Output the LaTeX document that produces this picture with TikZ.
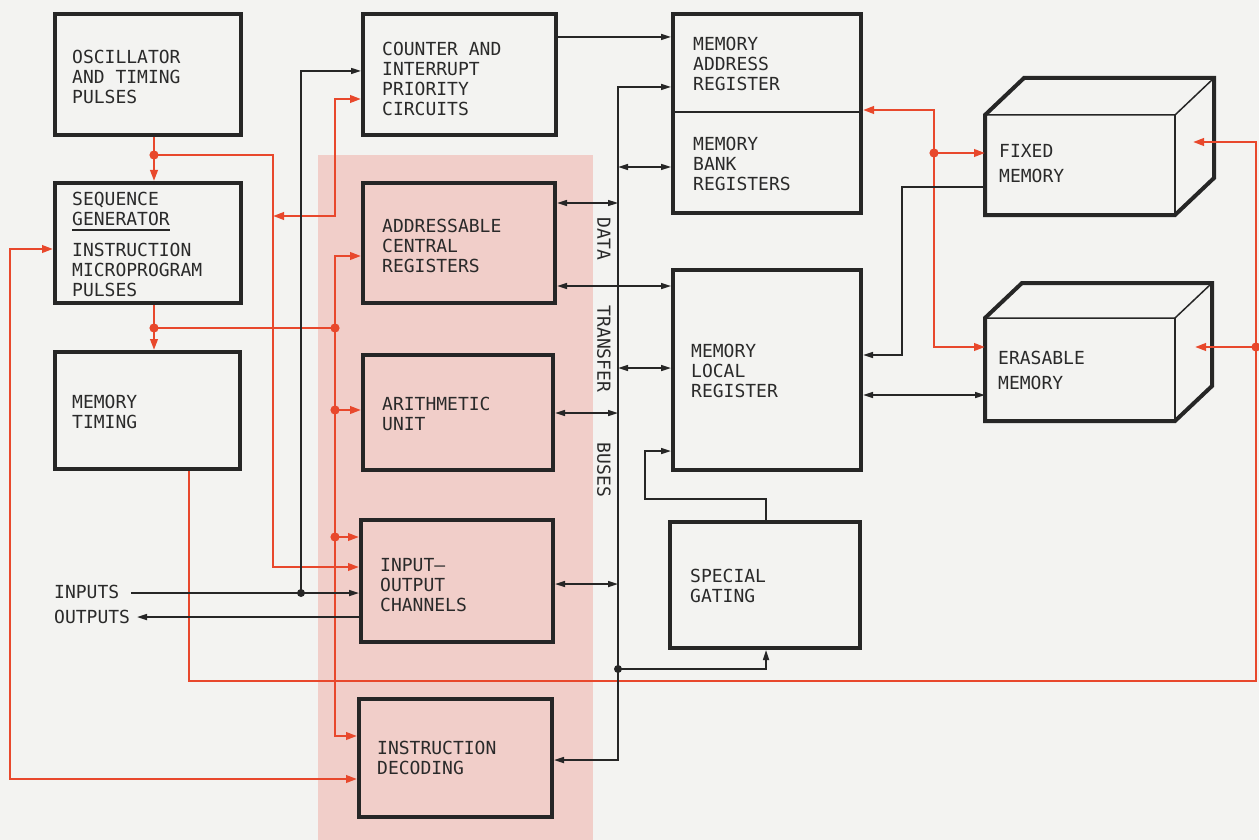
\documentclass[tikz,border=0pt]{standalone}
\usepackage{fontspec}
\setmainfont{DejaVu Sans Mono}
\usetikzlibrary{arrows.meta,calc}
\definecolor{bgc}{RGB}{243,243,241}
\definecolor{pinkc}{RGB}{241,206,201}
\definecolor{redc}{RGB}{232,72,44}
\definecolor{inkc}{RGB}{38,38,38}
\definecolor{txtc}{RGB}{42,42,42}
\begin{document}
\begin{tikzpicture}[x=1pt,y=-1pt,
  box/.style={draw=inkc, line width=4pt, inner sep=0pt},
  face/.style={inner sep=0pt, outer sep=0pt},
  lbl/.style={font=\fontsize{18}{20}\selectfont, text=txtc, align=left, inner sep=0pt, anchor=west},
  wlbl/.style={lbl, font=\fontsize{18}{25}\selectfont},
  vlbl/.style={font=\fontsize{18}{20}\selectfont, text=txtc, inner sep=0pt, rotate=-90},
  bl/.style={draw=inkc, line width=1.6pt, >={Triangle[length=10pt,width=6pt]}},
  rl/.style={draw=redc, line width=2.3pt, >={Triangle[length=11pt,width=7.5pt]}},
  thickedge/.style={draw=inkc, line width=4pt, line join=miter},
  thinedge/.style={draw=inkc, line width=1.5pt},
  rdot/.style={fill=redc},
  kdot/.style={fill=inkc}]
\useasboundingbox (0,0) rectangle (1259,840);
\fill[bgc] (0,0) rectangle (1259,840);
\fill[pinkc] (318,155) rectangle (593,840);

% ---------- boxes ----------
\node[box, minimum width=186pt, minimum height=121pt] (osc) at (148,74.5) {};
\node[box, minimum width=186pt, minimum height=120pt] (seq) at (148,243) {};
\node[box, minimum width=185pt, minimum height=117pt] (memt) at (147.5,410.5) {};
\node[box, minimum width=193pt, minimum height=121pt] (ctr) at (459.5,74.5) {};
\node[box, minimum width=192pt, minimum height=120pt] (addr) at (459,243) {};
\node[box, minimum width=190pt, minimum height=115pt] (arith) at (458,412.5) {};
\node[box, minimum width=192pt, minimum height=122pt] (io) at (457,581) {};
\node[box, minimum width=193pt, minimum height=118pt] (instr) at (455.5,758) {};
\node[box, minimum width=188pt, minimum height=199pt] (mar) at (767,113.5) {};
\node[box, minimum width=188pt, minimum height=200pt] (mlr) at (767,370) {};
\node[box, minimum width=190pt, minimum height=126pt] (spec) at (765,585) {};
\draw[thinedge] (mar.west |- 0,112) -- (mar.east |- 0,112);

% 3D memories
\node[face, minimum width=190pt, minimum height=100pt] (fixedm) at (1080,165) {};
\draw[thickedge] (fixedm.south west) -- (fixedm.north west) -- ++(39,-37) -- ++(190,0) -- ++(0,100) -- (fixedm.south east) -- cycle;
\draw[thinedge] (fixedm.north west) -- (fixedm.north east) -- ++(39,-37);
\draw[thinedge] (fixedm.north east) -- (fixedm.south east);
\node[face, minimum width=190pt, minimum height=103pt] (eras) at (1080,369.5) {};
\draw[thickedge] (eras.south west) -- (eras.north west) -- ++(37,-35) -- ++(190,0) -- ++(0,103) -- (eras.south east) -- cycle;
\draw[thinedge] (eras.north west) -- (eras.north east) -- ++(37,-35);
\draw[thinedge] (eras.north east) -- (eras.south east);

% ---------- junction coordinates ----------
\coordinate (j1) at (154,155);
\coordinate (j2) at (154,328);
\coordinate (j3) at (335,328);
\coordinate (j4) at (335,410);
\coordinate (j5) at (335,537);
\coordinate (j6) at (1256,347);
\coordinate (j7) at (934,153);
\coordinate (k1) at (301,593);
\coordinate (k2) at (618,669);
\coordinate (fxin) at (1193,142);
\coordinate (erin) at (1195,347);
\coordinate (inS) at (131,593);
\coordinate (outE) at (137,617);

% ---------- red control lines ----------
\draw[rl,->] (osc.south -| j1) -- (seq.north -| j1);
\draw[rl,->] (j1) -- (273,155) -- (273,567) -- (io.west |- 0,567);
\draw[rl,<->] (273,216) -- (335,216) -- (335,99) -- (ctr.west |- 0,99);
\draw[rl,->] (seq.south -| j2) -- (memt.north -| j2);
\draw[rl] (j2) -- (j3);
\draw[rl,<->] (addr.west |- 0,256) -- (335,256) -- (335,736) -- (instr.west |- 0,736);
\draw[rl,->] (j4) -- (arith.west |- j4);
\draw[rl,->] (j5) -- (io.west |- j5);
\draw[rl,<->] (seq.west |- 0,249) -- (10,249) -- (10,779) -- (instr.west |- 0,779);
\draw[rl,->] (memt.south -| 189,0) -- (189,681) -- (1256,681) -- (1256,142) -- (fxin);
\draw[rl,->] (j6) -- (erin);
\draw[rl,<->] (mar.east |- 0,110) -- (934,110) -- (934,347) -- (eras.west |- 0,347);
\draw[rl,->] (j7) -- (fixedm.west |- j7);

% ---------- black data lines ----------
\draw[bl,->] (ctr.east |- 0,37) -- (mar.west |- 0,37);
\draw[bl,->] (inS) -- (io.west |- inS);
\draw[bl,->] (k1) -- (301,71) -- (ctr.west |- 0,71);
\draw[bl,->] (io.west |- outE) -- (outE);
\draw[bl,<->] (mar.west |- 0,87) -- (618,87) -- (618,760) -- (instr.east |- 0,760);
\draw[bl,<->] (618,167) -- (mar.west |- 0,167);
\draw[bl,<->] (addr.east |- 0,203) -- (618,203);
\draw[bl,<->] (addr.east |- 0,286) -- (mlr.west |- 0,286);
\draw[bl,<->] (618,368) -- (mlr.west |- 0,368);
\draw[bl,<->] (arith.east |- 0,413) -- (618,413);
\draw[bl,<->] (io.east |- 0,584) -- (618,584);
\draw[bl,->] (k2) -- (766,669) -- (spec.south -| 766,0);
\draw[bl,->] (spec.north -| 766,0) -- (766,499) -- (645,499) -- (645,451) -- (mlr.west |- 0,451);
\draw[bl,->] (fixedm.west |- 0,187) -- (902,187) -- (902,355) -- (mlr.east |- 0,355);
\draw[bl,<->] (mlr.east |- 0,395) -- (eras.west |- 0,395);

% ---------- dots ----------
\foreach \p in {j1,j2,j3,j4,j5,j6,j7} \fill[rdot] (\p) circle (4.6pt);
\foreach \p in {k1,k2} \fill[kdot] (\p) circle (4pt);

% ---------- labels ----------
\node[lbl] (osc-l) at (72,77) {OSCILLATOR\\AND TIMING\\PULSES};
\node[lbl, anchor=north west] (seq-l1) at (72,192) {SEQUENCE\\GENERATOR};
\draw[thinedge] ([yshift=-4pt]seq-l1.south west) -- ([yshift=-4pt]seq-l1.south east);
\node[lbl, anchor=north west] (seq-l2) at (72,243) {INSTRUCTION\\MICROPROGRAM\\PULSES};
\node[lbl] (memt-l) at (72,412) {MEMORY\\TIMING};
\node[lbl] (ctr-l) at (382,79) {COUNTER AND\\INTERRUPT\\PRIORITY\\CIRCUITS};
\node[lbl] (addr-l) at (382,246) {ADDRESSABLE\\CENTRAL\\REGISTERS};
\node[lbl] (arith-l) at (382,413.5) {ARITHMETIC\\UNIT};
\node[lbl] (io-l) at (380,585) {INPUT–\\OUTPUT\\CHANNELS};
\node[lbl] (instr-l) at (377,758) {INSTRUCTION\\DECODING};
\node[lbl] (mar-l1) at (693,64) {MEMORY\\ADDRESS\\REGISTER};
\node[lbl] (mar-l2) at (693,164) {MEMORY\\BANK\\REGISTERS};
\node[lbl] (mlr-l) at (691,370.5) {MEMORY\\LOCAL\\REGISTER};
\node[lbl] (spec-l) at (690,585.5) {SPECIAL\\GATING};
\node[wlbl] (fixed-l) at (999,164) {FIXED\\MEMORY};
\node[wlbl] (eras-l) at (998,370) {ERASABLE\\MEMORY};
\node[lbl] (inputs) at (54,592) {INPUTS};
\node[lbl] (outputs) at (54,617) {OUTPUTS};
\node[vlbl] (bus-l1) at (604,239) {DATA};
\node[vlbl] (bus-l2) at (604,349) {TRANSFER};
\node[vlbl] (bus-l3) at (604,470) {BUSES};
\end{tikzpicture}
\end{document}
